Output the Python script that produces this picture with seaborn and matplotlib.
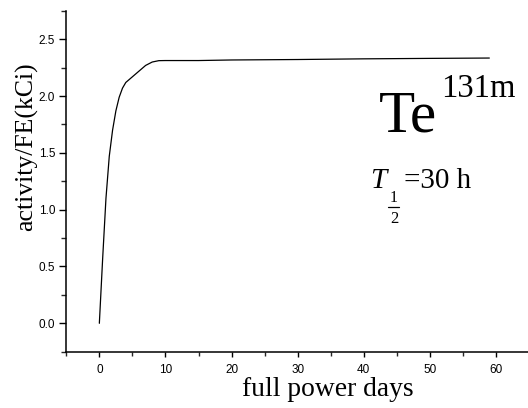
import matplotlib
matplotlib.use("Agg")
import matplotlib.pyplot as plt
import seaborn as sns
import pandas as pd
from matplotlib.ticker import MultipleLocator

days = [0, 0.5, 1, 1.5, 2, 2.5, 3, 3.5, 4, 5, 6, 7, 8, 9, 10, 15, 20, 30, 40, 50, 59]
activity = [0, 0.57, 1.10, 1.47, 1.70, 1.87, 1.99, 2.07, 2.12, 2.17, 2.22, 2.27, 2.30,
            2.312, 2.313, 2.313, 2.318, 2.322, 2.328, 2.332, 2.335]

x_label = "full power days"
y_label = "activity/FE(kCi)"
nuclide = "Te"
isotope = "131m"
half_life = "=30 h"

sns.set_style("ticks")
plt.rcParams["font.family"] = ["Liberation Sans", "DejaVu Sans"]
plt.rcParams["text.color"] = "black"

W, H = 528, 408
fig = plt.figure(figsize=(W / 100, H / 100), dpi=100)
left, right, top, bottom = 66.3, 529.0, 10.9, 351.7
ax = fig.add_axes([left / W, 1 - bottom / H, (right - left) / W, (bottom - top) / H])

df = pd.DataFrame({"days": days, "activity": activity})
sns.lineplot(data=df, x="days", y="activity", ax=ax, color="black", linewidth=0.9)

ax.set_xlim(-5, 65)
ax.set_ylim(-0.25, 2.75)
ax.xaxis.set_major_locator(MultipleLocator(10))
ax.xaxis.set_minor_locator(MultipleLocator(5))
ax.yaxis.set_major_locator(MultipleLocator(0.5))
ax.yaxis.set_minor_locator(MultipleLocator(0.25))
ax.set_xticks([0, 10, 20, 30, 40, 50, 60])
ax.set_yticks([0.0, 0.5, 1.0, 1.5, 2.0, 2.5])
ax.set_yticklabels(["0.0", "0.5", "1.0", "1.5", "2.0", "2.5"])

for s in ["top", "right"]:
    ax.spines[s].set_visible(False)
for s in ["left", "bottom"]:
    ax.spines[s].set_linewidth(1.1)
    ax.spines[s].set_color("black")

ax.tick_params(axis="x", which="major", direction="out", length=3.6, width=1, pad=5,
               labelsize=8.5, colors="black")
ax.tick_params(axis="x", which="minor", direction="out", length=2.6, width=1)
ax.tick_params(axis="y", which="major", direction="out", length=5, width=1, pad=3,
               labelsize=8.5, colors="black")
ax.tick_params(axis="y", which="minor", direction="out", length=3.5, width=1)

ax.set_xlabel("")
ax.set_ylabel("")

def P(x, y):
    return (x / W, 1 - y / H)

serif = ["Liberation Serif", "DejaVu Serif"]
fig.text(*P(327.5, 395.5), x_label, family=serif, fontsize=19.8, ha="center",
         va="baseline", color="black")
fig.text(*P(27, 147), y_label, family=serif, fontsize=18.5, ha="center", va="center",
         rotation=90, color="black")

fig.text(*P(379, 131.7), nuclide, family=serif, fontsize=42.5, ha="left", va="baseline",
         color="black")
fig.text(*P(441.5, 96.7), isotope, family=serif, fontsize=23.5, ha="left", va="baseline",
         color="black")

fig.text(*P(370, 188.3), "T", family=serif, style="italic", fontsize=21, ha="left",
         va="baseline", color="black")
fig.text(*P(394, 202.3), "1", family=serif, fontsize=11.5, ha="center", va="baseline",
         color="black")
fig.add_artist(plt.Line2D([388 / W, 399 / W], [1 - 206.7 / H, 1 - 206.7 / H],
                          transform=fig.transFigure, color="black", linewidth=0.9))
fig.text(*P(394, 223.3), "2", family=serif, fontsize=12, ha="center", va="baseline",
         color="black")
fig.text(*P(404.5, 188.3), half_life, family=serif, fontsize=21, ha="left", va="baseline",
         color="black")

fig.savefig("out.png", dpi=100)
